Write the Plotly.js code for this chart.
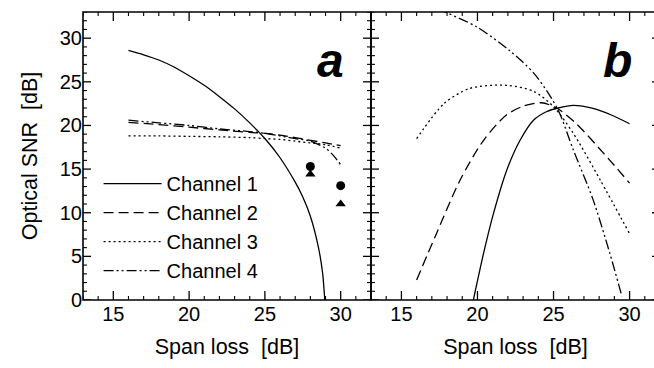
<!DOCTYPE html>
<html>
<head>
<meta charset="utf-8">
<script src="https://cdn.plot.ly/plotly-3.0.1.min.js"></script>
<style>
html,body{margin:0;padding:0;overflow:hidden;background:#fff;width:654px;height:368px;}
#chart{width:660px;height:368px;}
</style>
</head>
<body>
<div id="chart"></div>
<script>
// ---- data: panel a ----
const a1x = [16, 17, 18, 19, 20, 21, 22, 23, 24, 25, 26, 27, 27.5, 28, 28.5, 28.8, 28.95];
const a1y = [28.6, 28.1, 27.5, 26.7, 25.7, 24.6, 23.3, 21.9, 20.3, 18.5, 16.3, 13.5, 11.8, 9.6, 6.3, 3.2, 0];
const a2x = [16, 18, 20, 22, 24, 25, 26, 27, 28, 29, 30];
const a2y = [20.35, 20.1, 19.8, 19.5, 19.2, 19.1, 18.9, 18.6, 18.3, 18.0, 17.7];
const a3x = [16, 18, 20, 22, 24, 25, 26, 27, 28, 29, 30];
const a3y = [18.8, 18.8, 18.75, 18.7, 18.6, 18.5, 18.4, 18.2, 18.0, 17.8, 17.4];
const a4x = [16, 18, 20, 22, 24, 25, 26, 27, 28, 29, 29.5, 30];
const a4y = [20.6, 20.3, 20.0, 19.6, 19.3, 19.1, 18.8, 18.5, 18.2, 17.4, 16.6, 15.5];
const circX = [28, 30];
const circY = [15.3, 13.1];
const triX = [28, 30];
const triY = [14.4, 11.0];
// ---- data: panel b ----
const b1x = [19.73, 20.4, 21.05, 21.93, 22.8, 23.68, 24.56, 25.3, 26.3, 27.6, 28.8, 30];
const b1y = [0, 5.35, 9.9, 14.9, 18.3, 20.6, 21.6, 22.0, 22.3, 21.96, 21.2, 20.2];
const b2x = [16, 17.3, 18.86, 20.4, 21.9, 23, 24.2, 25.2, 26.5, 28.3, 30];
const b2y = [2.3, 7.6, 13.75, 18.3, 21.2, 22.2, 22.6, 22.0, 20.2, 16.8, 13.4];
const b3x = [16, 17.8, 19.5, 21.9, 23.7, 25.0, 26.3, 28.07, 30];
const b3y = [18.5, 22.5, 24.25, 24.6, 23.9, 22.15, 19.1, 13.75, 7.6];
const b4x = [16, 18, 19.95, 22.1, 23.7, 24.8, 25.4, 26.3, 27.6, 28.7, 29.5];
const b4y = [34.4, 32.9, 31.3, 28.6, 26.0, 23.3, 21.4, 17.2, 11.5, 5.35, 0.4];

const names = ["Channel 1", "Channel 2", "Channel 3", "Channel 4"];
const dashes = ["solid", "10px,5px", "2px,3px", "10px,3px,2px,3px,2px,3px"];
const FONT = "Liberation Sans, Arial, Helvetica, sans-serif";

const aX = [a1x, a2x, a3x, a4x], aY = [a1y, a2y, a3y, a4y];
const bX = [b1x, b2x, b3x, b4x], bY = [b1y, b2y, b3y, b4y];

const XR = [13, 32], YR = [0, 33];
const PLOT_H = 288, PANEL_W = [288, 289];

const traces = [];
for (let i = 0; i < 4; i++) {
  traces.push({x: aX[i], y: aY[i], type: "scatter", mode: "lines", name: names[i],
    xaxis: "x", yaxis: "y", hoverinfo: "skip",
    line: {color: "#000", width: 1.3, dash: dashes[i], shape: "spline", smoothing: 0.8}});
}
for (let i = 0; i < 4; i++) {
  traces.push({x: bX[i], y: bY[i], type: "scatter", mode: "lines", name: names[i],
    xaxis: "x2", yaxis: "y2", showlegend: false, hoverinfo: "skip",
    line: {color: "#000", width: 1.3, dash: dashes[i], shape: "spline", smoothing: 0.8}});
}
traces.push({x: circX, y: circY, type: "scatter", mode: "markers", showlegend: false,
  xaxis: "x", yaxis: "y", marker: {symbol: "circle", size: 9, color: "#000"}});
traces.push({x: triX, y: triY, type: "scatter", mode: "markers", showlegend: false,
  xaxis: "x", yaxis: "y", marker: {symbol: "triangle-up", size: 9, color: "#000"}});

// inward frame ticks (major every 5 units, minor every 1) built from the axis ranges
function tickTraces(xa, ya, w) {
  const out = [];
  [true, false].forEach(major => {
    const xs = [], ys = [];
    const lenY = (major ? 9 : 4) * (YR[1] - YR[0]) / PLOT_H;
    const lenX = (major ? 8 : 4) * (XR[1] - XR[0]) / w;
    for (let v = Math.ceil(XR[0]); v <= XR[1]; v++) {
      if ((v % 5 === 0) !== major) continue;
      xs.push(v, v, null, v, v, null);
      ys.push(YR[0], YR[0] + lenY, null, YR[1], YR[1] - lenY, null);
    }
    for (let v = Math.ceil(YR[0]); v <= YR[1]; v++) {
      if ((v % 5 === 0) !== major) continue;
      xs.push(XR[0], XR[0] + lenX, null, XR[1], XR[1] - lenX, null);
      ys.push(v, v, null, v, v, null);
    }
    out.push({x: xs, y: ys, type: "scatter", mode: "lines", showlegend: false, hoverinfo: "skip",
      xaxis: xa, yaxis: ya, connectgaps: false, line: {color: "#000", width: major ? 1.3 : 1.1}});
  });
  return out;
}
traces.push(...tickTraces("x", "y", PANEL_W[0]));
traces.push(...tickTraces("x2", "y2", PANEL_W[1]));

function xax(domain, anchor) {
  return {domain: domain, anchor: anchor, range: XR, tickmode: "linear", tick0: 0, dtick: 5,
    ticks: "", showline: false, showgrid: false, zeroline: false,
    tickfont: {family: FONT, size: 20, color: "#000"},
    title: {text: "Span loss\u00a0\u00a0[dB]", font: {family: FONT, size: 21.5, color: "#000"}, standoff: 14}};
}
function yax(anchor, labels) {
  return {domain: [0, 1], anchor: anchor, range: YR, tickmode: "linear", tick0: 0, dtick: 5,
    ticks: "", showline: false, showgrid: false, zeroline: false, showticklabels: labels,
    tickfont: {family: FONT, size: 20, color: "#000"},
    title: labels ? {text: "Optical SNR\u00a0\u00a0[dB]", font: {family: FONT, size: 21.5, color: "#000"}, standoff: 16} : {text: ""}};
}

const frame = (xr, yr) => ({type: "rect", xref: xr, yref: yr, x0: 0, x1: 1, y0: 0, y1: 1,
  line: {color: "#000", width: 1.6}, fillcolor: "rgba(0,0,0,0)", layer: "above"});

const split = 288 / 577;
const layout = {
  width: 660, height: 368,
  margin: {l: 83, r: 0, t: 12, b: 68},
  paper_bgcolor: "#fff", plot_bgcolor: "#fff",
  font: {family: FONT, color: "#000"},
  xaxis: xax([0, split], "y"),
  yaxis: yax("x", true),
  xaxis2: xax([split, 1], "y2"),
  yaxis2: yax("x2", false),
  shapes: [frame("x domain", "y domain"), frame("x2 domain", "y2 domain")],
  legend: {x: 0.027, y: 0.472, xanchor: "left", yanchor: "top", bgcolor: "rgba(0,0,0,0)",
    itemwidth: 58, font: {family: FONT, size: 20, color: "#000"}},
  showlegend: true,
  annotations: [
    {text: "<b><i>a</i></b>", x: 29.3, y: 27.5, xref: "x", yref: "y", showarrow: false,
      font: {family: FONT, size: 48, color: "#000"}},
    {text: "<b><i>b</i></b>", x: 29.2, y: 27.5, xref: "x2", yref: "y2", showarrow: false,
      font: {family: FONT, size: 48, color: "#000"}}
  ]
};
Plotly.newPlot("chart", traces, layout, {displayModeBar: false, staticPlot: true});
</script>
</body>
</html>
